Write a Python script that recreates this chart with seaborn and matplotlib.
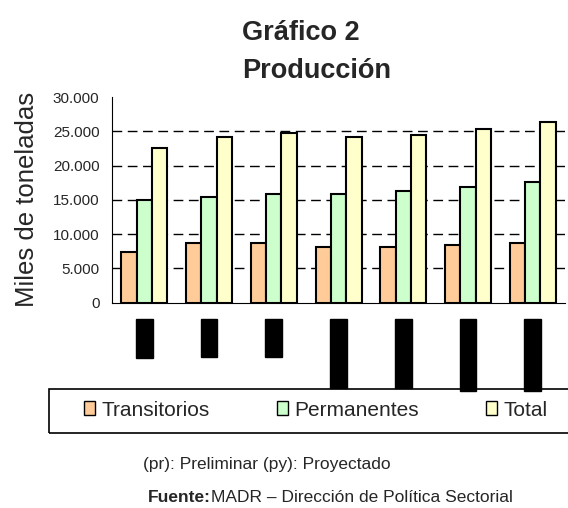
import pandas as pd
import numpy as np
import seaborn as sns
import matplotlib.pyplot as plt
from matplotlib.ticker import FuncFormatter, FixedLocator
from matplotlib.patches import Patch, Rectangle

years = ["2002", "2003", "2004", "2005 (pr)", "2006 (pr)", "2007 (py)", "2008 (py)"]
transitorios = [7450, 8720, 8720, 8140, 8140, 8430, 8720]
permanentes = [15010, 15350, 15930, 15930, 16270, 16900, 17590]
total = [22500, 24100, 24700, 24100, 24400, 25350, 26300]
series = ["Transitorios", "Permanentes", "Total"]
colores = ["#FFCC99", "#CCFFCC", "#FFFFCC"]

df = pd.DataFrame({"Año": years * 3,
                   "Serie": [s for s in series for _ in years],
                   "Valor": transitorios + permanentes + total})

sns.set_style("white")
plt.rcParams["font.family"] = ["Liberation Sans", "DejaVu Sans"]

fig = plt.figure(figsize=(5.68, 5.08), dpi=100)
ax = fig.add_axes([0.197, 0.404, 0.798, 0.405])
sns.barplot(data=df, x="Año", y="Valor", hue="Serie", palette=colores, saturation=1,
            edgecolor="black", linewidth=1.5, width=0.71, legend=False, ax=ax,
            zorder=3)

ax.set_ylim(0, 30000)
ax.set_xlim(-0.5, 6.5)
ax.set_yticks(range(0, 30001, 5000))
ax.yaxis.set_major_formatter(FuncFormatter(lambda v, p: f"{int(v):,}".replace(",", ".")))
for y in range(5000, 30000, 5000):
    ax.axhline(y, color="black", lw=1, ls=(0, (7, 4)), zorder=1)

for s in ["top", "right"]:
    ax.spines[s].set_visible(False)
ax.spines["left"].set_color("black")
ax.spines["bottom"].set_color("black")
ax.tick_params(axis="y", which="major", length=5, color="black", labelsize=11, pad=4)
ax.tick_params(axis="x", which="major", length=0, pad=12)
ax.xaxis.set_minor_locator(FixedLocator(np.arange(-0.5, 7, 1)))
ax.tick_params(axis="x", which="minor", length=5, color="black", direction="out")

ax.set_xticks(range(len(years)))
ax.set_xticklabels(years, rotation=270, fontsize=12, color="black", va="top",
                   bbox=dict(boxstyle="square,pad=0.05", fc="black", ec="black"))
ax.set_xlabel("")
ax.set_ylabel("Miles de toneladas", fontsize=18.5, labelpad=10)

fig.text(242 / 568, 1 - 40 / 508, "Gráfico 2", ha="left", va="baseline", fontsize=19.5, fontweight="bold")
fig.text(242 / 568, 1 - 78 / 508, "Producción", ha="left", va="baseline", fontsize=19.5, fontweight="bold")

# legend box
fig.patches.append(Rectangle((49 / 568, 1 - 433 / 508), 0.95, 44 / 508, transform=fig.transFigure,
                             fill=False, edgecolor="black", lw=1.2))
handles = [Patch(facecolor=c, edgecolor="black", lw=1) for c in colores]
leg = fig.legend(handles, series, loc="center left", bbox_to_anchor=(84 / 568, 1 - 410 / 508),
                 ncol=3, fontsize=15, frameon=False, handlelength=0.55, handleheight=0.62,
                 handletextpad=0.3, columnspacing=3.2, borderaxespad=0, borderpad=0)

fig.text(0.47, 0.085, "(pr): Preliminar (py): Proyectado", ha="center", va="center", fontsize=12.5)
fig.text(0.26, 0.02, "Fuente:", ha="left", va="center", fontsize=12.5, fontweight="bold")
fig.text(0.372, 0.02, "MADR – Dirección de Política Sectorial", ha="left", va="center", fontsize=12.5)

plt.savefig("out.png", dpi=100)
